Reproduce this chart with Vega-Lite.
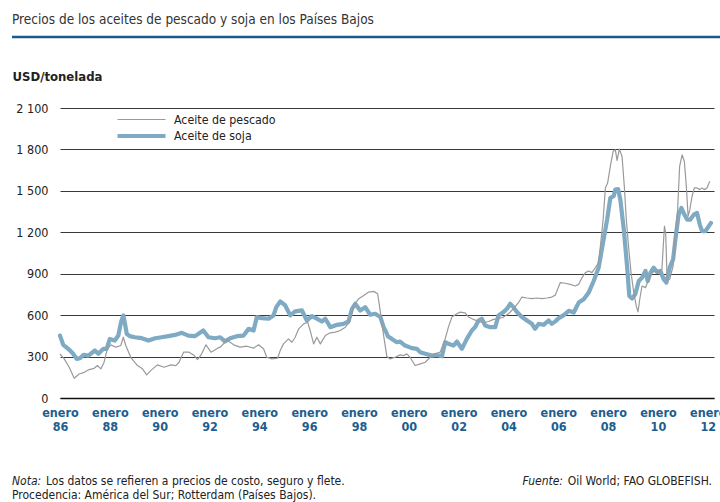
{
  "$schema": "https://vega.github.io/schema/vega-lite/v6.json",
  "width": 654,
  "height": 290,
  "autosize": {"type": "none"},
  "padding": {"left": 60, "top": 108, "right": 6, "bottom": 104},
  "background": "white",
  "title": {
    "text": "Precios de los aceites de pescado y soja en los Países Bajos",
    "anchor": "start",
    "frame": "group",
    "dx": -48,
    "offset": 9,
    "fontSize": 13.5,
    "fontWeight": "normal",
    "color": "#333333"
  },
  "datasets": {
    "series": [
      {"s": "Aceite de soja", "t": 1986.0, "v": 452},
      {"s": "Aceite de soja", "t": 1986.13, "v": 385},
      {"s": "Aceite de soja", "t": 1986.33, "v": 356},
      {"s": "Aceite de soja", "t": 1986.53, "v": 320},
      {"s": "Aceite de soja", "t": 1986.67, "v": 283},
      {"s": "Aceite de soja", "t": 1986.8, "v": 288},
      {"s": "Aceite de soja", "t": 1986.94, "v": 312},
      {"s": "Aceite de soja", "t": 1987.14, "v": 307},
      {"s": "Aceite de soja", "t": 1987.4, "v": 344},
      {"s": "Aceite de soja", "t": 1987.54, "v": 320},
      {"s": "Aceite de soja", "t": 1987.74, "v": 356},
      {"s": "Aceite de soja", "t": 1987.87, "v": 356},
      {"s": "Aceite de soja", "t": 1988.0, "v": 428},
      {"s": "Aceite de soja", "t": 1988.2, "v": 416},
      {"s": "Aceite de soja", "t": 1988.34, "v": 452},
      {"s": "Aceite de soja", "t": 1988.45, "v": 549},
      {"s": "Aceite de soja", "t": 1988.54, "v": 598},
      {"s": "Aceite de soja", "t": 1988.61, "v": 537},
      {"s": "Aceite de soja", "t": 1988.68, "v": 465},
      {"s": "Aceite de soja", "t": 1988.8, "v": 448},
      {"s": "Aceite de soja", "t": 1989.0, "v": 440},
      {"s": "Aceite de soja", "t": 1989.28, "v": 433},
      {"s": "Aceite de soja", "t": 1989.55, "v": 416},
      {"s": "Aceite de soja", "t": 1989.82, "v": 433},
      {"s": "Aceite de soja", "t": 1990.08, "v": 440},
      {"s": "Aceite de soja", "t": 1990.35, "v": 448},
      {"s": "Aceite de soja", "t": 1990.62, "v": 457},
      {"s": "Aceite de soja", "t": 1990.89, "v": 472},
      {"s": "Aceite de soja", "t": 1991.15, "v": 452},
      {"s": "Aceite de soja", "t": 1991.42, "v": 448},
      {"s": "Aceite de soja", "t": 1991.75, "v": 489},
      {"s": "Aceite de soja", "t": 1991.96, "v": 440},
      {"s": "Aceite de soja", "t": 1992.22, "v": 433},
      {"s": "Aceite de soja", "t": 1992.43, "v": 440},
      {"s": "Aceite de soja", "t": 1992.62, "v": 410},
      {"s": "Aceite de soja", "t": 1992.83, "v": 433},
      {"s": "Aceite de soja", "t": 1993.1, "v": 448},
      {"s": "Aceite de soja", "t": 1993.37, "v": 452},
      {"s": "Aceite de soja", "t": 1993.57, "v": 501},
      {"s": "Aceite de soja", "t": 1993.77, "v": 489},
      {"s": "Aceite de soja", "t": 1993.9, "v": 586},
      {"s": "Aceite de soja", "t": 1994.1, "v": 578},
      {"s": "Aceite de soja", "t": 1994.37, "v": 574},
      {"s": "Aceite de soja", "t": 1994.57, "v": 598},
      {"s": "Aceite de soja", "t": 1994.68, "v": 658},
      {"s": "Aceite de soja", "t": 1994.84, "v": 699},
      {"s": "Aceite de soja", "t": 1995.04, "v": 670},
      {"s": "Aceite de soja", "t": 1995.24, "v": 598},
      {"s": "Aceite de soja", "t": 1995.44, "v": 627},
      {"s": "Aceite de soja", "t": 1995.71, "v": 634},
      {"s": "Aceite de soja", "t": 1995.91, "v": 561},
      {"s": "Aceite de soja", "t": 1996.11, "v": 593},
      {"s": "Aceite de soja", "t": 1996.31, "v": 574},
      {"s": "Aceite de soja", "t": 1996.51, "v": 554},
      {"s": "Aceite de soja", "t": 1996.65, "v": 574},
      {"s": "Aceite de soja", "t": 1996.85, "v": 513},
      {"s": "Aceite de soja", "t": 1997.12, "v": 530},
      {"s": "Aceite de soja", "t": 1997.38, "v": 537},
      {"s": "Aceite de soja", "t": 1997.58, "v": 554},
      {"s": "Aceite de soja", "t": 1997.72, "v": 646},
      {"s": "Aceite de soja", "t": 1997.85, "v": 682},
      {"s": "Aceite de soja", "t": 1998.05, "v": 634},
      {"s": "Aceite de soja", "t": 1998.25, "v": 658},
      {"s": "Aceite de soja", "t": 1998.45, "v": 603},
      {"s": "Aceite de soja", "t": 1998.65, "v": 610},
      {"s": "Aceite de soja", "t": 1998.86, "v": 586},
      {"s": "Aceite de soja", "t": 1998.99, "v": 513},
      {"s": "Aceite de soja", "t": 1999.08, "v": 480},
      {"s": "Aceite de soja", "t": 1999.17, "v": 445},
      {"s": "Aceite de soja", "t": 1999.32, "v": 428},
      {"s": "Aceite de soja", "t": 1999.52, "v": 404},
      {"s": "Aceite de soja", "t": 1999.65, "v": 409},
      {"s": "Aceite de soja", "t": 1999.85, "v": 380},
      {"s": "Aceite de soja", "t": 2000.12, "v": 361},
      {"s": "Aceite de soja", "t": 2000.32, "v": 356},
      {"s": "Aceite de soja", "t": 2000.46, "v": 332},
      {"s": "Aceite de soja", "t": 2000.66, "v": 320},
      {"s": "Aceite de soja", "t": 2000.92, "v": 307},
      {"s": "Aceite de soja", "t": 2001.12, "v": 312},
      {"s": "Aceite de soja", "t": 2001.33, "v": 302},
      {"s": "Aceite de soja", "t": 2001.46, "v": 404},
      {"s": "Aceite de soja", "t": 2001.59, "v": 392},
      {"s": "Aceite de soja", "t": 2001.79, "v": 380},
      {"s": "Aceite de soja", "t": 2001.93, "v": 409},
      {"s": "Aceite de soja", "t": 2002.13, "v": 356},
      {"s": "Aceite de soja", "t": 2002.33, "v": 428},
      {"s": "Aceite de soja", "t": 2002.53, "v": 489},
      {"s": "Aceite de soja", "t": 2002.66, "v": 513},
      {"s": "Aceite de soja", "t": 2002.8, "v": 561},
      {"s": "Aceite de soja", "t": 2002.93, "v": 574},
      {"s": "Aceite de soja", "t": 2003.07, "v": 525},
      {"s": "Aceite de soja", "t": 2003.27, "v": 513},
      {"s": "Aceite de soja", "t": 2003.47, "v": 513},
      {"s": "Aceite de soja", "t": 2003.6, "v": 598},
      {"s": "Aceite de soja", "t": 2003.8, "v": 622},
      {"s": "Aceite de soja", "t": 2003.94, "v": 646},
      {"s": "Aceite de soja", "t": 2004.07, "v": 682},
      {"s": "Aceite de soja", "t": 2004.2, "v": 658},
      {"s": "Aceite de soja", "t": 2004.34, "v": 622},
      {"s": "Aceite de soja", "t": 2004.54, "v": 586},
      {"s": "Aceite de soja", "t": 2004.74, "v": 561},
      {"s": "Aceite de soja", "t": 2004.94, "v": 537},
      {"s": "Aceite de soja", "t": 2005.07, "v": 501},
      {"s": "Aceite de soja", "t": 2005.21, "v": 537},
      {"s": "Aceite de soja", "t": 2005.41, "v": 530},
      {"s": "Aceite de soja", "t": 2005.61, "v": 561},
      {"s": "Aceite de soja", "t": 2005.74, "v": 537},
      {"s": "Aceite de soja", "t": 2005.88, "v": 555},
      {"s": "Aceite de soja", "t": 2006.0, "v": 575},
      {"s": "Aceite de soja", "t": 2006.22, "v": 600},
      {"s": "Aceite de soja", "t": 2006.42, "v": 631},
      {"s": "Aceite de soja", "t": 2006.62, "v": 619},
      {"s": "Aceite de soja", "t": 2006.82, "v": 691},
      {"s": "Aceite de soja", "t": 2007.02, "v": 715},
      {"s": "Aceite de soja", "t": 2007.22, "v": 763},
      {"s": "Aceite de soja", "t": 2007.42, "v": 847},
      {"s": "Aceite de soja", "t": 2007.62, "v": 944},
      {"s": "Aceite de soja", "t": 2007.82, "v": 1148},
      {"s": "Aceite de soja", "t": 2007.96, "v": 1292},
      {"s": "Aceite de soja", "t": 2008.09, "v": 1449},
      {"s": "Aceite de soja", "t": 2008.22, "v": 1461},
      {"s": "Aceite de soja", "t": 2008.29, "v": 1509},
      {"s": "Aceite de soja", "t": 2008.4, "v": 1513},
      {"s": "Aceite de soja", "t": 2008.49, "v": 1437},
      {"s": "Aceite de soja", "t": 2008.63, "v": 1220},
      {"s": "Aceite de soja", "t": 2008.76, "v": 956},
      {"s": "Aceite de soja", "t": 2008.85, "v": 739},
      {"s": "Aceite de soja", "t": 2008.96, "v": 720},
      {"s": "Aceite de soja", "t": 2009.09, "v": 751},
      {"s": "Aceite de soja", "t": 2009.23, "v": 847},
      {"s": "Aceite de soja", "t": 2009.36, "v": 871},
      {"s": "Aceite de soja", "t": 2009.5, "v": 920},
      {"s": "Aceite de soja", "t": 2009.59, "v": 847},
      {"s": "Aceite de soja", "t": 2009.7, "v": 908},
      {"s": "Aceite de soja", "t": 2009.83, "v": 944},
      {"s": "Aceite de soja", "t": 2009.96, "v": 912},
      {"s": "Aceite de soja", "t": 2010.1, "v": 920},
      {"s": "Aceite de soja", "t": 2010.23, "v": 860},
      {"s": "Aceite de soja", "t": 2010.34, "v": 836},
      {"s": "Aceite de soja", "t": 2010.47, "v": 944},
      {"s": "Aceite de soja", "t": 2010.61, "v": 1004},
      {"s": "Aceite de soja", "t": 2010.7, "v": 1148},
      {"s": "Aceite de soja", "t": 2010.83, "v": 1328},
      {"s": "Aceite de soja", "t": 2010.94, "v": 1376},
      {"s": "Aceite de soja", "t": 2011.03, "v": 1340},
      {"s": "Aceite de soja", "t": 2011.17, "v": 1292},
      {"s": "Aceite de soja", "t": 2011.3, "v": 1292},
      {"s": "Aceite de soja", "t": 2011.44, "v": 1328},
      {"s": "Aceite de soja", "t": 2011.57, "v": 1340},
      {"s": "Aceite de soja", "t": 2011.68, "v": 1256},
      {"s": "Aceite de soja", "t": 2011.77, "v": 1208},
      {"s": "Aceite de soja", "t": 2011.9, "v": 1208},
      {"s": "Aceite de soja", "t": 2012.04, "v": 1244},
      {"s": "Aceite de soja", "t": 2012.13, "v": 1268},
      {"s": "Aceite de pescado", "t": 1986.0, "v": 320},
      {"s": "Aceite de pescado", "t": 1986.17, "v": 283},
      {"s": "Aceite de pescado", "t": 1986.37, "v": 223},
      {"s": "Aceite de pescado", "t": 1986.57, "v": 143},
      {"s": "Aceite de pescado", "t": 1986.77, "v": 174},
      {"s": "Aceite de pescado", "t": 1986.97, "v": 186},
      {"s": "Aceite de pescado", "t": 1987.17, "v": 206},
      {"s": "Aceite de pescado", "t": 1987.37, "v": 215},
      {"s": "Aceite de pescado", "t": 1987.5, "v": 235},
      {"s": "Aceite de pescado", "t": 1987.64, "v": 211},
      {"s": "Aceite de pescado", "t": 1987.77, "v": 259},
      {"s": "Aceite de pescado", "t": 1987.9, "v": 356},
      {"s": "Aceite de pescado", "t": 1988.04, "v": 385},
      {"s": "Aceite de pescado", "t": 1988.24, "v": 368},
      {"s": "Aceite de pescado", "t": 1988.44, "v": 380},
      {"s": "Aceite de pescado", "t": 1988.54, "v": 440},
      {"s": "Aceite de pescado", "t": 1988.64, "v": 380},
      {"s": "Aceite de pescado", "t": 1988.84, "v": 295},
      {"s": "Aceite de pescado", "t": 1989.11, "v": 235},
      {"s": "Aceite de pescado", "t": 1989.31, "v": 211},
      {"s": "Aceite de pescado", "t": 1989.48, "v": 167},
      {"s": "Aceite de pescado", "t": 1989.64, "v": 198},
      {"s": "Aceite de pescado", "t": 1989.91, "v": 240},
      {"s": "Aceite de pescado", "t": 1990.18, "v": 223},
      {"s": "Aceite de pescado", "t": 1990.45, "v": 240},
      {"s": "Aceite de pescado", "t": 1990.65, "v": 235},
      {"s": "Aceite de pescado", "t": 1990.78, "v": 259},
      {"s": "Aceite de pescado", "t": 1990.96, "v": 332},
      {"s": "Aceite de pescado", "t": 1991.18, "v": 332},
      {"s": "Aceite de pescado", "t": 1991.39, "v": 307},
      {"s": "Aceite de pescado", "t": 1991.52, "v": 278},
      {"s": "Aceite de pescado", "t": 1991.66, "v": 312},
      {"s": "Aceite de pescado", "t": 1991.86, "v": 385},
      {"s": "Aceite de pescado", "t": 1992.06, "v": 332},
      {"s": "Aceite de pescado", "t": 1992.33, "v": 361},
      {"s": "Aceite de pescado", "t": 1992.45, "v": 370},
      {"s": "Aceite de pescado", "t": 1992.7, "v": 420},
      {"s": "Aceite de pescado", "t": 1992.97, "v": 385},
      {"s": "Aceite de pescado", "t": 1993.23, "v": 368},
      {"s": "Aceite de pescado", "t": 1993.5, "v": 375},
      {"s": "Aceite de pescado", "t": 1993.77, "v": 361},
      {"s": "Aceite de pescado", "t": 1993.97, "v": 385},
      {"s": "Aceite de pescado", "t": 1994.17, "v": 356},
      {"s": "Aceite de pescado", "t": 1994.3, "v": 295},
      {"s": "Aceite de pescado", "t": 1994.5, "v": 283},
      {"s": "Aceite de pescado", "t": 1994.73, "v": 288},
      {"s": "Aceite de pescado", "t": 1994.84, "v": 344},
      {"s": "Aceite de pescado", "t": 1994.97, "v": 392},
      {"s": "Aceite de pescado", "t": 1995.17, "v": 428},
      {"s": "Aceite de pescado", "t": 1995.31, "v": 404},
      {"s": "Aceite de pescado", "t": 1995.44, "v": 440},
      {"s": "Aceite de pescado", "t": 1995.58, "v": 501},
      {"s": "Aceite de pescado", "t": 1995.78, "v": 537},
      {"s": "Aceite de pescado", "t": 1995.94, "v": 549},
      {"s": "Aceite de pescado", "t": 1996.04, "v": 489},
      {"s": "Aceite de pescado", "t": 1996.18, "v": 392},
      {"s": "Aceite de pescado", "t": 1996.31, "v": 440},
      {"s": "Aceite de pescado", "t": 1996.45, "v": 392},
      {"s": "Aceite de pescado", "t": 1996.65, "v": 452},
      {"s": "Aceite de pescado", "t": 1996.85, "v": 472},
      {"s": "Aceite de pescado", "t": 1997.05, "v": 477},
      {"s": "Aceite de pescado", "t": 1997.25, "v": 489},
      {"s": "Aceite de pescado", "t": 1997.45, "v": 513},
      {"s": "Aceite de pescado", "t": 1997.62, "v": 549},
      {"s": "Aceite de pescado", "t": 1997.79, "v": 670},
      {"s": "Aceite de pescado", "t": 1997.99, "v": 719},
      {"s": "Aceite de pescado", "t": 1998.19, "v": 743},
      {"s": "Aceite de pescado", "t": 1998.39, "v": 767},
      {"s": "Aceite de pescado", "t": 1998.59, "v": 772},
      {"s": "Aceite de pescado", "t": 1998.75, "v": 755},
      {"s": "Aceite de pescado", "t": 1998.86, "v": 622},
      {"s": "Aceite de pescado", "t": 1998.99, "v": 452},
      {"s": "Aceite de pescado", "t": 1999.12, "v": 300},
      {"s": "Aceite de pescado", "t": 1999.25, "v": 283},
      {"s": "Aceite de pescado", "t": 1999.45, "v": 295},
      {"s": "Aceite de pescado", "t": 1999.65, "v": 312},
      {"s": "Aceite de pescado", "t": 1999.79, "v": 307},
      {"s": "Aceite de pescado", "t": 1999.92, "v": 320},
      {"s": "Aceite de pescado", "t": 2000.05, "v": 295},
      {"s": "Aceite de pescado", "t": 2000.25, "v": 235},
      {"s": "Aceite de pescado", "t": 2000.46, "v": 247},
      {"s": "Aceite de pescado", "t": 2000.66, "v": 259},
      {"s": "Aceite de pescado", "t": 2000.86, "v": 295},
      {"s": "Aceite de pescado", "t": 2001.06, "v": 320},
      {"s": "Aceite de pescado", "t": 2001.26, "v": 332},
      {"s": "Aceite de pescado", "t": 2001.46, "v": 428},
      {"s": "Aceite de pescado", "t": 2001.59, "v": 513},
      {"s": "Aceite de pescado", "t": 2001.73, "v": 586},
      {"s": "Aceite de pescado", "t": 2001.93, "v": 610},
      {"s": "Aceite de pescado", "t": 2002.06, "v": 622},
      {"s": "Aceite de pescado", "t": 2002.26, "v": 617},
      {"s": "Aceite de pescado", "t": 2002.4, "v": 586},
      {"s": "Aceite de pescado", "t": 2002.6, "v": 569},
      {"s": "Aceite de pescado", "t": 2002.8, "v": 554},
      {"s": "Aceite de pescado", "t": 2003.0, "v": 545},
      {"s": "Aceite de pescado", "t": 2003.2, "v": 554},
      {"s": "Aceite de pescado", "t": 2003.4, "v": 569},
      {"s": "Aceite de pescado", "t": 2003.6, "v": 574},
      {"s": "Aceite de pescado", "t": 2003.8, "v": 586},
      {"s": "Aceite de pescado", "t": 2004.0, "v": 610},
      {"s": "Aceite de pescado", "t": 2004.2, "v": 646},
      {"s": "Aceite de pescado", "t": 2004.4, "v": 690},
      {"s": "Aceite de pescado", "t": 2004.54, "v": 731},
      {"s": "Aceite de pescado", "t": 2004.74, "v": 724},
      {"s": "Aceite de pescado", "t": 2004.94, "v": 719},
      {"s": "Aceite de pescado", "t": 2005.14, "v": 724},
      {"s": "Aceite de pescado", "t": 2005.34, "v": 719},
      {"s": "Aceite de pescado", "t": 2005.54, "v": 724},
      {"s": "Aceite de pescado", "t": 2005.74, "v": 731},
      {"s": "Aceite de pescado", "t": 2005.88, "v": 745},
      {"s": "Aceite de pescado", "t": 2006.08, "v": 836},
      {"s": "Aceite de pescado", "t": 2006.28, "v": 831},
      {"s": "Aceite de pescado", "t": 2006.48, "v": 823},
      {"s": "Aceite de pescado", "t": 2006.68, "v": 811},
      {"s": "Aceite de pescado", "t": 2006.82, "v": 823},
      {"s": "Aceite de pescado", "t": 2006.95, "v": 871},
      {"s": "Aceite de pescado", "t": 2007.09, "v": 908},
      {"s": "Aceite de pescado", "t": 2007.22, "v": 920},
      {"s": "Aceite de pescado", "t": 2007.35, "v": 908},
      {"s": "Aceite de pescado", "t": 2007.49, "v": 944},
      {"s": "Aceite de pescado", "t": 2007.62, "v": 980},
      {"s": "Aceite de pescado", "t": 2007.69, "v": 1100},
      {"s": "Aceite de pescado", "t": 2007.8, "v": 1292},
      {"s": "Aceite de pescado", "t": 2007.89, "v": 1521},
      {"s": "Aceite de pescado", "t": 2007.98, "v": 1557},
      {"s": "Aceite de pescado", "t": 2008.09, "v": 1677},
      {"s": "Aceite de pescado", "t": 2008.2, "v": 1785},
      {"s": "Aceite de pescado", "t": 2008.29, "v": 1797},
      {"s": "Aceite de pescado", "t": 2008.36, "v": 1720},
      {"s": "Aceite de pescado", "t": 2008.45, "v": 1802},
      {"s": "Aceite de pescado", "t": 2008.56, "v": 1749},
      {"s": "Aceite de pescado", "t": 2008.65, "v": 1533},
      {"s": "Aceite de pescado", "t": 2008.73, "v": 1292},
      {"s": "Aceite de pescado", "t": 2008.83, "v": 1076},
      {"s": "Aceite de pescado", "t": 2008.92, "v": 908},
      {"s": "Aceite de pescado", "t": 2009.03, "v": 763},
      {"s": "Aceite de pescado", "t": 2009.13, "v": 667},
      {"s": "Aceite de pescado", "t": 2009.2, "v": 624},
      {"s": "Aceite de pescado", "t": 2009.27, "v": 715},
      {"s": "Aceite de pescado", "t": 2009.36, "v": 811},
      {"s": "Aceite de pescado", "t": 2009.5, "v": 799},
      {"s": "Aceite de pescado", "t": 2009.63, "v": 860},
      {"s": "Aceite de pescado", "t": 2009.76, "v": 908},
      {"s": "Aceite de pescado", "t": 2009.9, "v": 920},
      {"s": "Aceite de pescado", "t": 2010.03, "v": 908},
      {"s": "Aceite de pescado", "t": 2010.16, "v": 932},
      {"s": "Aceite de pescado", "t": 2010.26, "v": 1244},
      {"s": "Aceite de pescado", "t": 2010.31, "v": 1196},
      {"s": "Aceite de pescado", "t": 2010.37, "v": 847},
      {"s": "Aceite de pescado", "t": 2010.47, "v": 860},
      {"s": "Aceite de pescado", "t": 2010.61, "v": 956},
      {"s": "Aceite de pescado", "t": 2010.7, "v": 1196},
      {"s": "Aceite de pescado", "t": 2010.79, "v": 1364},
      {"s": "Aceite de pescado", "t": 2010.87, "v": 1677},
      {"s": "Aceite de pescado", "t": 2010.97, "v": 1761},
      {"s": "Aceite de pescado", "t": 2011.06, "v": 1713},
      {"s": "Aceite de pescado", "t": 2011.14, "v": 1533},
      {"s": "Aceite de pescado", "t": 2011.21, "v": 1316},
      {"s": "Aceite de pescado", "t": 2011.28, "v": 1364},
      {"s": "Aceite de pescado", "t": 2011.37, "v": 1461},
      {"s": "Aceite de pescado", "t": 2011.46, "v": 1521},
      {"s": "Aceite de pescado", "t": 2011.57, "v": 1521},
      {"s": "Aceite de pescado", "t": 2011.68, "v": 1509},
      {"s": "Aceite de pescado", "t": 2011.77, "v": 1521},
      {"s": "Aceite de pescado", "t": 2011.86, "v": 1509},
      {"s": "Aceite de pescado", "t": 2011.97, "v": 1521},
      {"s": "Aceite de pescado", "t": 2012.08, "v": 1569}
    ]
  },
  "layer": [
    {
      "data": {"values": [{}]},
      "mark": {"type": "rule", "color": "#1b5b8c", "strokeWidth": 2.5},
      "encoding": {
        "x": {"value": -48},
        "x2": {"value": 660},
        "y": {"value": -71}
      }
    },
    {
      "data": {"name": "series"},
      "transform": [{"filter": "datum.s === 'Aceite de soja'"}],
      "mark": {"type": "line", "strokeJoin": "round", "strokeCap": "round"},
      "encoding": {
        "x": {
          "field": "t",
          "type": "quantitative",
          "scale": {"domain": [1986, 2012.25], "nice": false, "zero": false},
          "axis": {
            "values": [1986, 1988, 1990, 1992, 1994, 1996, 1998, 2000, 2002, 2004, 2006, 2008, 2010, 2012],
            "labelExpr": "['enero', substring(toString(datum.value), 2, 4)]",
            "labelFlush": false,
            "labelOverlap": false,
            "grid": false,
            "ticks": false,
            "domain": true,
            "domainColor": "#111111",
            "domainWidth": 1.6,
            "labelPadding": 8,
            "labelColor": "#1d5e8f",
            "labelFontWeight": "bold",
            "labelFontSize": 12.5,
            "labelLineHeight": 14,
            "title": null
          }
        },
        "y": {
          "field": "v",
          "type": "quantitative",
          "scale": {"domain": [0, 2100], "nice": false},
          "axis": {
            "values": [0, 300, 600, 900, 1200, 1500, 1800, 2100],
            "labelExpr": "replace(format(datum.value, ','), ',', ' ')",
            "title": "USD/tonelada",
            "titleAngle": 0,
            "titleAlign": "left",
            "titleX": -48,
            "titleY": -28,
            "titleBaseline": "alphabetic",
            "titleFontWeight": "bold",
            "titleFontSize": 13,
            "titleColor": "#222222",
            "grid": true,
            "gridColor": "#3a3a3a",
            "gridWidth": 1.2,
            "domain": false,
            "ticks": false,
            "labelPadding": 12,
            "labelFontSize": 12.5,
            "labelColor": "#222222"
          }
        },
        "color": {
          "field": "s",
          "type": "nominal",
          "scale": {"domain": ["Aceite de pescado", "Aceite de soja"], "range": ["#9a9a9a", "#7eaac4"]},
          "legend": {"title": null}
        },
        "strokeWidth": {
          "field": "s",
          "type": "nominal",
          "scale": {"domain": ["Aceite de pescado", "Aceite de soja"], "range": [1.2, 4.2]},
          "legend": {"title": null}
        }
      }
    },
    {
      "data": {"name": "series"},
      "transform": [{"filter": "datum.s === 'Aceite de pescado'"}],
      "mark": {"type": "line", "strokeJoin": "round"},
      "encoding": {
        "x": {"field": "t", "type": "quantitative"},
        "y": {"field": "v", "type": "quantitative"},
        "color": {"field": "s", "type": "nominal"},
        "strokeWidth": {"field": "s", "type": "nominal"}
      }
    },
    {
      "data": {"values": [{}]},
      "mark": {"type": "text", "text": "Nota:", "fontStyle": "italic", "fontSize": 12, "color": "#222222", "align": "left", "baseline": "alphabetic"},
      "encoding": {"x": {"value": -48}, "y": {"value": 377}}
    },
    {
      "data": {"values": [{}]},
      "mark": {"type": "text", "text": "Los datos se refieren a precios de costo, seguro y flete.", "fontSize": 12, "color": "#222222", "align": "left", "baseline": "alphabetic"},
      "encoding": {"x": {"value": -14}, "y": {"value": 377}}
    },
    {
      "data": {"values": [{}]},
      "mark": {"type": "text", "text": "Procedencia: América del Sur; Rotterdam (Países Bajos).", "fontSize": 12, "color": "#222222", "align": "left", "baseline": "alphabetic"},
      "encoding": {"x": {"value": -48}, "y": {"value": 391}}
    },
    {
      "data": {"values": [{}]},
      "mark": {"type": "text", "text": "Fuente:", "fontStyle": "italic", "fontSize": 12, "color": "#222222", "align": "right", "baseline": "alphabetic"},
      "encoding": {"x": {"value": 503}, "y": {"value": 377}}
    },
    {
      "data": {"values": [{}]},
      "mark": {"type": "text", "text": "Oil World; FAO GLOBEFISH.", "fontSize": 12, "color": "#222222", "align": "right", "baseline": "alphabetic"},
      "encoding": {"x": {"value": 652}, "y": {"value": 377}}
    }
  ],
  "config": {
    "font": "Liberation Sans Narrow, DejaVu Sans Condensed, Roboto, sans-serif",
    "view": {"stroke": null},
    "legend": {
      "orient": "none",
      "legendX": 71.5,
      "legendY": 3,
      "padding": 0,
      "symbolType": "M-3.2,0H3.2",
      "symbolSize": 225,
      "labelOffset": 22.5,
      "rowPadding": 0,
      "labelFontSize": 12.3,
      "labelColor": "#222222",
      "labelLimit": 300
    }
  }
}
